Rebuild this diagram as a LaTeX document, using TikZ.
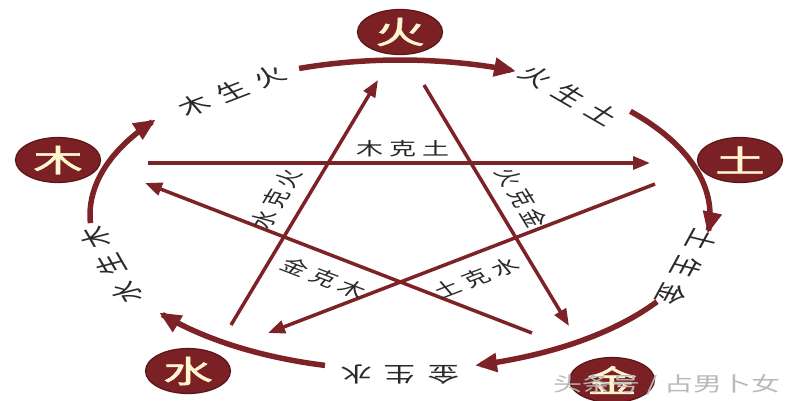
\documentclass[tikz,border=0pt]{standalone}
\usepackage{fontspec}
\usepackage{graphicx}
\newfontfamily\cjk{Noto Sans CJK SC}
\newfontfamily\cjkbold[FakeBold=1.5]{Noto Sans CJK SC}
\usetikzlibrary{arrows.meta,shapes.geometric}
\definecolor{elemfill}{HTML}{7B2125}
\definecolor{elemedge}{HTML}{5A1518}
\definecolor{cream}{HTML}{FFF6CF}
\definecolor{linered}{HTML}{7D2327}
\definecolor{labelgray}{HTML}{2A2A2A}
\begin{document}
\begin{tikzpicture}[x=1pt,y=-1pt,
 elem/.style={ellipse, fill=elemfill, draw=elemedge, line width=1.2pt, minimum width=85pt, minimum height=45pt, inner sep=0pt, text=cream, font=\cjkbold\fontsize{31}{31}\selectfont},
 sheng/.style={text=labelgray, inner sep=0pt, font=\cjk\fontsize{21}{21}\selectfont, xscale=1.5},
 ke/.style={text=labelgray, inner sep=0pt, font=\cjk\fontsize{18}{18}\selectfont, xscale=1.5},
 orbit/.style={draw=linered, line width=5.5pt, -{Triangle[length=22pt,width=18pt]}},
 kline/.style={draw=linered, line width=3.5pt, -{Triangle[length=17pt,width=13pt]}},
]
\useasboundingbox (0,0) rectangle (800,400);
\fill[white] (0,0) rectangle (800,400);

% outer cycle arcs
\draw[orbit] plot[domain=183:142, samples=40] ({400+310*cos(\x)},{215-155*sin(\x)});
\draw[orbit] plot[domain=109:68, samples=40] ({400+310*cos(\x)},{215-155*sin(\x)});
\draw[orbit] plot[domain=42:-7, samples=40] ({400+310*cos(\x)},{215-155*sin(\x)});
\draw[orbit] plot[domain=-34:-76, samples=40] ({400+310*cos(\x)},{215-155*sin(\x)});
\draw[orbit] plot[domain=-104:-141, samples=40] ({400+310*cos(\x)},{215-155*sin(\x)});

% star coordinates
\coordinate (muS) at (148,163); \coordinate (tuE) at (650,163);
\coordinate (shuiS) at (231,325); \coordinate (huoE) at (378,80);
\coordinate (huoS) at (424,85); \coordinate (jinE) at (569,326);
\coordinate (jinS) at (532,333); \coordinate (muE) at (145,183);
\coordinate (tuS) at (655,184); \coordinate (shuiE) at (268,333);

\draw[kline] (muS) -- (tuE);
\draw[kline] (shuiS) -- (huoE);
\draw[kline] (huoS) -- (jinE);
\draw[kline] (jinS) -- (muE);
\draw[kline] (tuS) -- (shuiE);

% generation labels
\node[sheng, rotate=30] (l1) at (232,91) {木\hspace{8pt}生\hspace{8pt}火};
\node[sheng, rotate=-41] (l2) at (569,95) {火\hspace{8pt}生\hspace{8pt}土};
\node[sheng, rotate=-110] (l3) at (687,267) {土\hspace{8pt}生\hspace{8pt}金};
\node[sheng, rotate=180] (l4) at (400,375) {金\hspace{8pt}生\hspace{8pt}水};
\node[sheng, rotate=111] (l5) at (111,265) {水\hspace{8pt}生\hspace{8pt}木};

% control labels
\node[ke] (k1) at (403,149) {木\hspace{4pt}克\hspace{4pt}土};
\node[ke, rotate=68] (k2) at (276,199) {水\hspace{4pt}克\hspace{4pt}火};
\node[ke, rotate=-68] (k3) at (522,198) {火\hspace{4pt}克\hspace{4pt}金};
\node[ke, rotate=-30] (k4) at (324,278) {金\hspace{4pt}克\hspace{4pt}木};
\node[ke, rotate=30] (k5) at (476,278) {土\hspace{4pt}克\hspace{4pt}水};

% elements
\node[elem] (huo) at (400,32) {\scalebox{1.6}[1]{火}};
\node[elem] (mu) at (58,160) {\scalebox{1.6}[1]{木}};
\node[elem] (tu) at (740,160) {\scalebox{1.6}[1]{土}};
\node[elem] (shui) at (188,371) {\scalebox{1.6}[1]{水}};
\node[elem] (jin) at (612,380) {\scalebox{1.6}[1]{金}};

% watermark
\node[text=gray!55, inner sep=0pt, font=\cjk\fontsize{20}{20}\selectfont, xscale=1.45] (wm) at (667,385) {头条号 / 占男卜女};
\end{tikzpicture}
\end{document}
